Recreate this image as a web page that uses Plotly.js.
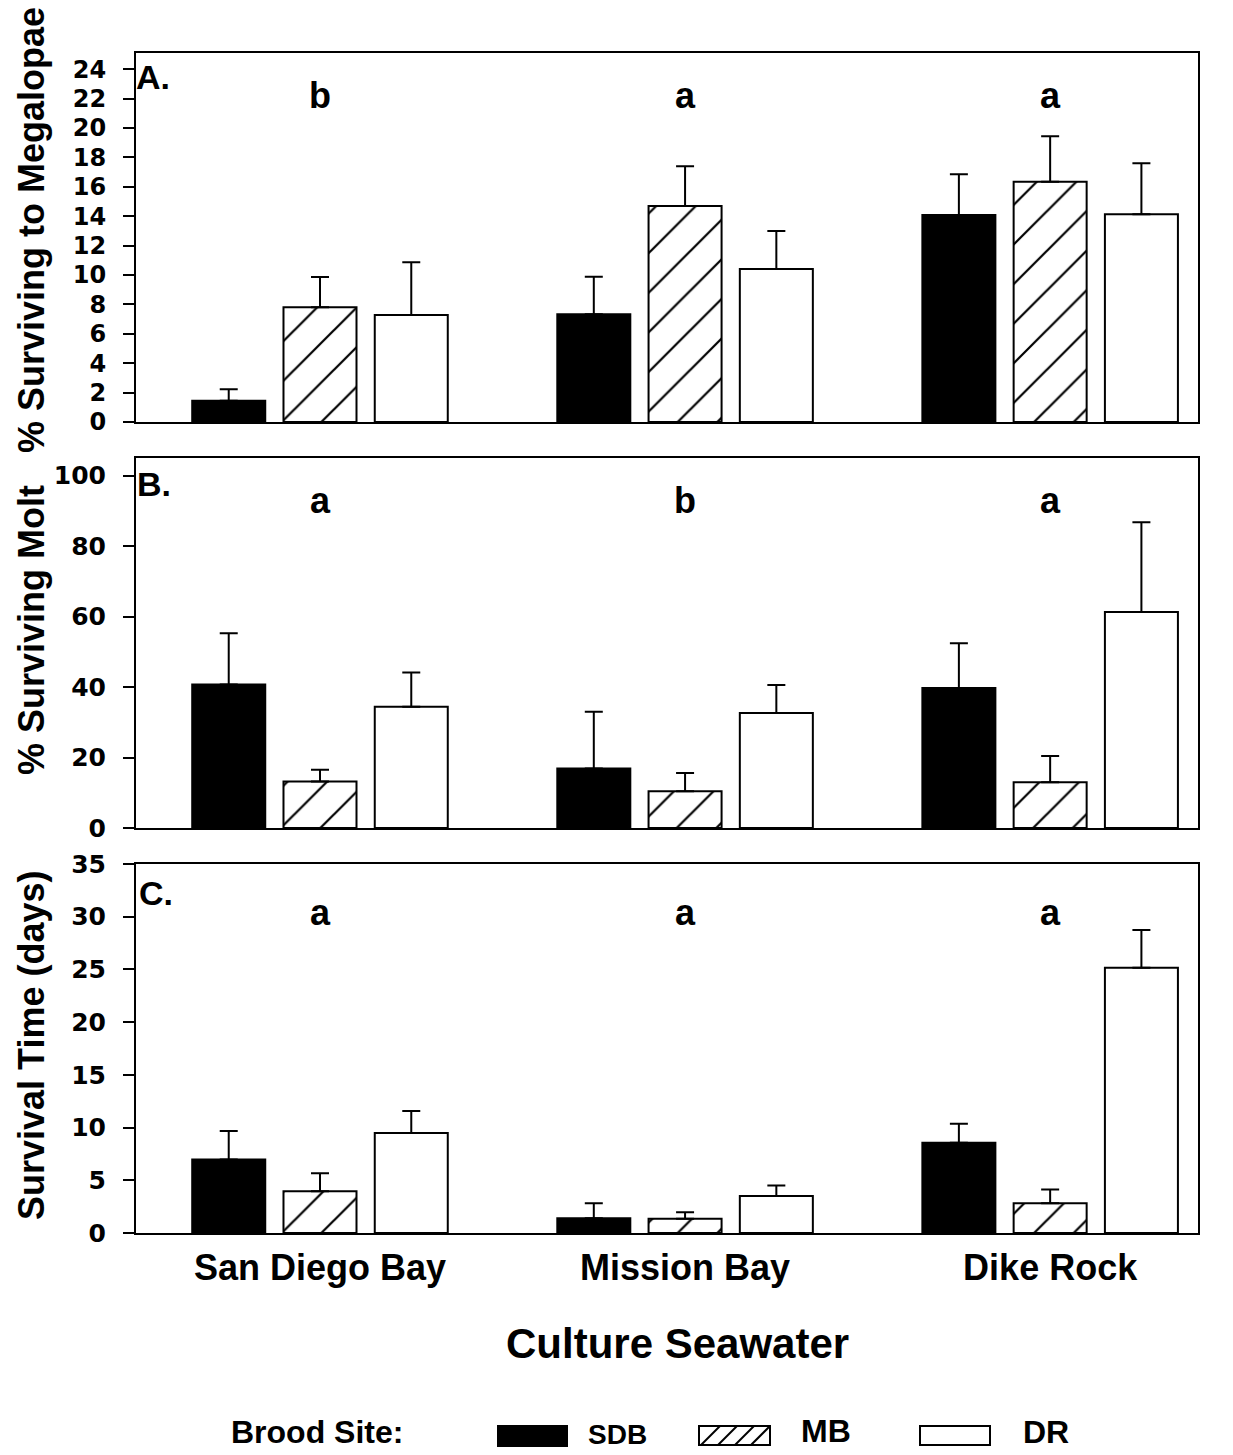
<!DOCTYPE html>
<html>
<head>
<meta charset="utf-8">
<script src="https://cdn.plot.ly/plotly-3.0.1.min.js"></script>
<style>html,body{margin:0;padding:0;background:#fff;}#chart{width:1233px;height:1455px;}</style>
</head>
<body>
<div id="chart"></div>
<script>
// ---- Data ----
const sites = ["San Diego Bay", "Mission Bay", "Dike Rock"];      // culture seawater
const broodNames = ["SDB", "MB", "DR"];                               // brood site

// Panel A: % surviving to megalopae
const megSDB = [1.45, 7.33, 14.08];
const megSDBerr = [0.77, 2.55, 2.77];
const megMB = [7.8, 14.7, 16.35];
const megMBerr = [2.06, 2.7, 3.08];
const megDR = [7.28, 10.4, 14.13];
const megDRerr = [3.58, 2.6, 3.47];
const sigA = ["b", "a", "a"];
const sigAy = [22.2, 22.2, 22.2];

// Panel B: % surviving molt
const moltSDB = [40.7, 16.9, 39.7];
const moltSDBerr = [14.6, 16.1, 12.7];
const moltMB = [13.2, 10.4, 13.0];
const moltMBerr = [3.3, 5.2, 7.4];
const moltDR = [34.4, 32.6, 61.3];
const moltDRerr = [9.7, 8.0, 25.5];
const sigB = ["a", "b", "a"];
const sigBy = [93, 93, 93];

// Panel C: survival time (days)
const timeSDB = [6.97, 1.41, 8.56];
const timeSDBerr = [2.7, 1.42, 1.8];
const timeMB = [3.97, 1.34, 2.83];
const timeMBerr = [1.7, 0.64, 1.3];
const timeDR = [9.48, 3.5, 25.16];
const timeDRerr = [2.1, 1.0, 3.57];
const sigC = ["a", "a", "a"];
const sigCy = [30.4, 30.4, 30.4];

const noneDown = [0, 0, 0];

// ---- Styling helpers ----
const W = 1233, H = 1455;
const px = v => v / W;
const py = v => 1 - v / H;
const BOLD = "Liberation Sans, Arial, Helvetica, sans-serif";
const TICKF = "DejaVu Sans, Liberation Sans, sans-serif";

const styles = {
  SDB: { color: "black", line: { color: "black", width: 2 } },
  MB: { color: "white", line: { color: "black", width: 2 },
        pattern: { shape: "/", fgcolor: "black", bgcolor: "white", size: 28, solidity: 0.08, fillmode: "replace" } },
  DR: { color: "white", line: { color: "black", width: 2 } }
};

function barTrace(name, yvals, errs, xa, ya) {
  return {
    type: "bar", name: name, x: sites, y: yvals, xaxis: xa, yaxis: ya,
    marker: styles[name], showlegend: false, hoverinfo: "x+y+name",
    error_y: { type: "data", symmetric: false, array: errs, arrayminus: noneDown,
               color: "black", thickness: 2, width: 9 }
  };
}

const traces = [
  barTrace("SDB", megSDB, megSDBerr, "x", "y"),
  barTrace("MB", megMB, megMBerr, "x", "y"),
  barTrace("DR", megDR, megDRerr, "x", "y"),
  barTrace("SDB", moltSDB, moltSDBerr, "x2", "y2"),
  barTrace("MB", moltMB, moltMBerr, "x2", "y2"),
  barTrace("DR", moltDR, moltDRerr, "x2", "y2"),
  barTrace("SDB", timeSDB, timeSDBerr, "x3", "y3"),
  barTrace("MB", timeMB, timeMBerr, "x3", "y3"),
  barTrace("DR", timeDR, timeDRerr, "x3", "y3")
];

const xDomain = [px(136), px(1198)];
const xRange = [-0.504, 2.405];

function xAxis(anchor, showLabels) {
  return {
    domain: xDomain, anchor: anchor, type: "category", range: xRange,
    showline: true, linecolor: "black", linewidth: 2, mirror: true,
    ticks: "", showticklabels: showLabels, showgrid: false, zeroline: false,
    tickfont: { family: BOLD, size: 36, color: "black", weight: "bold" },
    ticklabelstandoff: 2
  };
}
function yAxis(anchor, dom, rng, dtick, fs) {
  return {
    domain: dom, anchor: anchor, range: rng, dtick: dtick, tick0: 0,
    showline: true, linecolor: "black", linewidth: 2, mirror: true,
    ticks: "outside", ticklen: 11, tickwidth: 2, tickcolor: "black",
    showgrid: false, zeroline: false,
    tickfont: { family: TICKF, size: fs, color: "black", weight: "bold" },
    ticklabelstandoff: 12
  };
}

const annotations = [];
function sigLetters(letters, ys, xa, ya) {
  letters.forEach((t, i) => annotations.push({
    text: t, x: sites[i], y: ys[i], xref: xa, yref: ya, showarrow: false,
    xanchor: "center", yanchor: "middle",
    font: { family: BOLD, size: 36, color: "black", weight: "bold" }
  }));
}
sigLetters(sigA, sigAy, "x", "y");
sigLetters(sigB, sigBy, "x2", "y2");
sigLetters(sigC, sigCy, "x3", "y3");

function txt(text, x, y, size, opts) {
  annotations.push(Object.assign({
    text: text, x: px(x), y: py(y), xref: "paper", yref: "paper", showarrow: false,
    xanchor: "left", yanchor: "middle",
    font: { family: BOLD, size: size, color: "black", weight: "bold" }
  }, opts || {}));
}
// panel letters
txt("A.", 134, 77, 34);
txt("B.", 135, 484, 34);
txt("C.", 137, 893, 34);
// y-axis titles
txt("% Surviving to Megalopae", 31, 230, 36, { textangle: -90, xanchor: "center" });
txt("% Surviving Molt", 31, 630, 36, { textangle: -90, xanchor: "center" });
txt("Survival Time (days)", 31, 1045, 36, { textangle: -90, xanchor: "center" });
// x-axis title
txt("Culture Seawater", 677, 1343, 42, { xanchor: "center" });
// legend
txt("Brood Site:", 229, 1432, 32);
txt(broodNames[0], 586, 1434, 28);
txt(broodNames[1], 799, 1431, 32);
txt(broodNames[2], 1021, 1432, 32);

const shapes = [
  { type: "rect", xref: "paper", yref: "paper", x0: px(498), x1: px(567), y0: py(1446), y1: py(1426),
    fillcolor: "black", line: { color: "black", width: 2 } },
  { type: "rect", xref: "paper", yref: "paper", x0: px(699), x1: px(770), y0: py(1445), y1: py(1426),
    fillcolor: "white", line: { color: "black", width: 2 } },
  { type: "rect", xref: "paper", yref: "paper", x0: px(920), x1: px(990), y0: py(1445), y1: py(1426),
    fillcolor: "white", line: { color: "black", width: 2 } }
];
[701, 718, 735, 751].forEach(x0 => shapes.push({
  type: "line", xref: "paper", yref: "paper", x0: px(x0), y0: py(1445), x1: px(x0 + 19), y1: py(1426),
  line: { color: "black", width: 2 }
}));

const layout = {
  width: W, height: H,
  margin: { l: 0, r: 0, t: 0, b: 0, pad: 0 },
  paper_bgcolor: "white", plot_bgcolor: "white",
  barmode: "group", bargap: 0.25, bargroupgap: 0.2,
  showlegend: false,
  font: { family: BOLD, color: "black" },
  xaxis: xAxis("y", false),
  xaxis2: xAxis("y2", false),
  xaxis3: xAxis("y3", true),
  yaxis: yAxis("x", [py(422), py(53)], [0, 25.1], 2, 24),
  yaxis2: yAxis("x2", [py(828), py(458)], [0, 105], 20, 25),
  yaxis3: yAxis("x3", [py(1233), py(864)], [0, 35], 5, 25),
  annotations: annotations,
  shapes: shapes
};

Plotly.newPlot("chart", traces, layout, { staticPlot: true, displayModeBar: false });
</script>
</body>
</html>
